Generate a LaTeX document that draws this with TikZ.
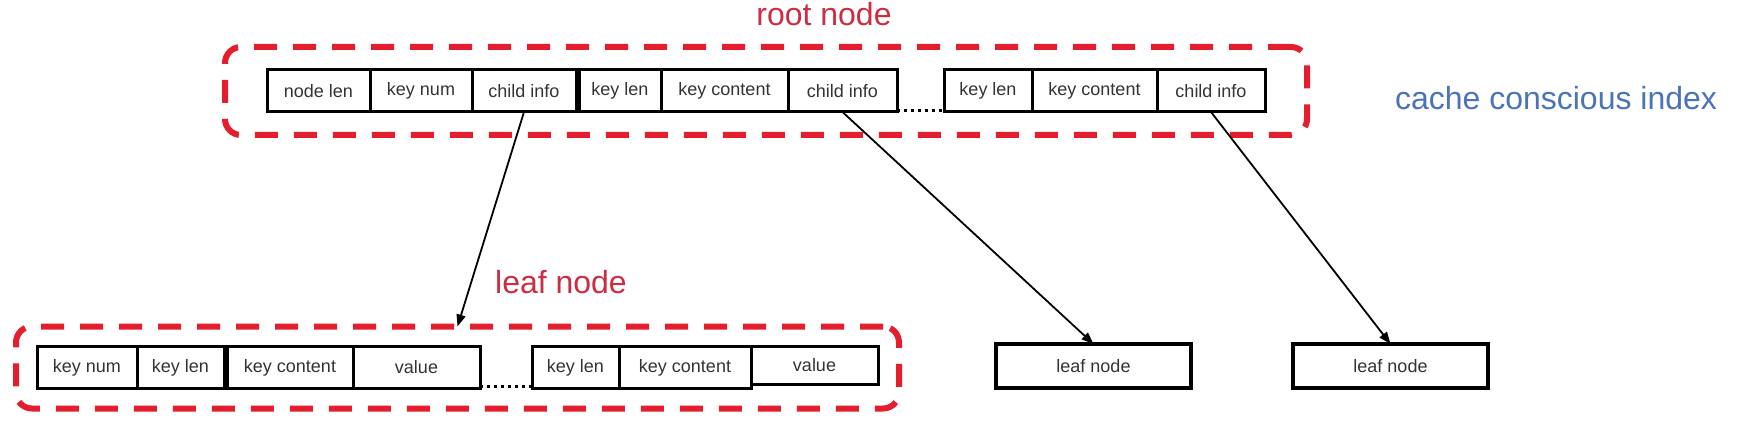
\documentclass[tikz,border=0pt]{standalone}
\usepackage{fontspec}
\setmainfont{Liberation Sans}
\usetikzlibrary{arrows.meta, positioning, fit}

\definecolor{dashred}{RGB}{228,30,45}
\definecolor{labelred}{RGB}{205,45,65}
\definecolor{indexblue}{RGB}{75,115,185}

\begin{document}
\begin{tikzpicture}[
        x=1pt, y=-1pt,
        cell/.style={rectangle, draw=black, line width=3pt, outer sep=0pt, inner sep=0pt, minimum height=42pt, text=black!80, font=\fontsize{18}{20}\selectfont},
        container/.style={rectangle, draw=dashred, line width=6pt, outer sep=0pt, dash pattern=on 23pt off 16pt, rounded corners=16pt},
        tag/.style={font=\fontsize{32}{36}\selectfont},
        leafbox/.style={cell, line width=3.5pt, minimum width=195pt, minimum height=44pt},
        dots/.style={draw=black, line width=3pt, dash pattern=on 3pt off 4pt},
        arrow/.style={-{Triangle[length=12pt, width=9pt]}, line width=1.8pt}
    ]
    \useasboundingbox (0,0) rectangle (1740,430);

    % Root node cells
    \node[cell, minimum width=103pt] (rlen) at (318.5, 91) {node len};
    \node[cell, minimum width=102pt, right=0pt of rlen] (rnum) {key num};
    \node[cell, minimum width=104pt, right=0pt of rnum] (rchildA) {child info};
    \node[cell, minimum width=82pt, right=3pt of rchildA] (rkeylenB) {key len};
    \node[cell, minimum width=127pt, right=0pt of rkeylenB] (rkeyB) {key content};
    \node[cell, minimum width=109pt, right=0pt of rkeyB] (rchildB) {child info};
    \node[cell, minimum width=88pt, right=47pt of rchildB] (rkeylenC) {key len};
    \node[cell, minimum width=125pt, right=0pt of rkeylenC] (rkeyC) {key content};
    \node[cell, minimum width=108pt, right=0pt of rkeyC] (rchildC) {child info};
    \node[container, fit=(rlen)(rchildC), inner xsep=42pt, inner ysep=23pt] (rootbox) {};

    % Leaf node cells
    \node[cell, minimum width=100pt] (lnum) at (87, 367.5) {key num};
    \node[cell, minimum width=87pt, right=0pt of lnum] (lkeylenA) {key len};
    \node[cell, minimum width=126pt, right=3pt of lkeylenA] (lkeyA) {key content};
    \node[cell, minimum width=127pt, right=0pt of lkeyA] (lvalA) {value};
    \node[cell, minimum width=87pt, right=52pt of lvalA] (lkeylenB) {key len};
    \node[cell, minimum width=132pt, right=0pt of lkeylenB] (lkeyB) {key content};
    \node[cell, minimum width=127pt, minimum height=38pt, right=0pt of lkeyB, yshift=2pt] (lvalB) {value};
    \node[container, fit=(lnum)(lvalB), inner xsep=21pt, inner ysep=20pt] (leafgroup) {};

    % Child leaf nodes
    \node[leafbox] (leafA) at (1093.5, 366) {leaf node};
    \node[leafbox, right=102pt of leafA] (leafB) {leaf node};

    % Labels
    \node[tag, text=labelred] (rootlabel) at (824, 14) {root node};
    \node[tag, text=labelred] (leaflabel) at (561, 282) {leaf node};
    \node[tag, text=indexblue] (indexlabel) at (1556, 98) {cache conscious index};

    % Omitted entries
    \draw[dots] ([yshift=1pt]rchildB.south east) -- ([yshift=1pt]rkeylenC.south west);
    \draw[dots] ([yshift=2pt]lvalA.south east) -- ([yshift=2pt]lkeylenB.south west);

    % Child pointers
    \draw[arrow] (rchildA.south) -- (leafgroup.north);
    \draw[arrow] (rchildB.south) -- (leafA.north);
    \draw[arrow] (rchildC.south) -- (leafB.north);

\end{tikzpicture}
\end{document}
